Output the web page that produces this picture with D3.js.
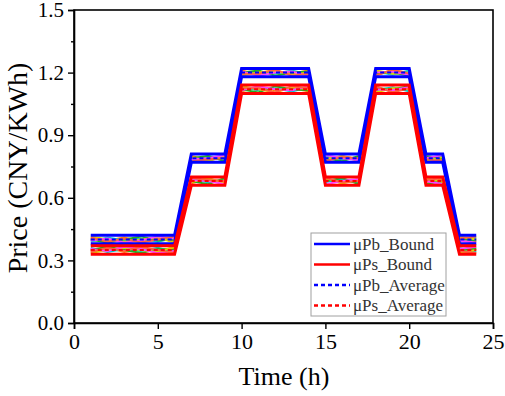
<!DOCTYPE html>
<html>
<head>
<meta charset="utf-8">
<script src="https://cdn.jsdelivr.net/npm/d3@7/dist/d3.min.js"></script>
<style>
  body { margin: 0; background: #fff; }
  text { font-family: "Liberation Serif", "Times New Roman", serif; }
</style>
</head>
<body>
<script>
// hours 1..24
var hours = d3.range(1, 25);

// buying price bounds / average (uPb)
var pbUpper = [0.42,0.42,0.42,0.42,0.42,0.42, 0.81,0.81,0.81, 1.22,1.22,1.22,1.22,1.22, 0.81,0.81,0.81, 1.22,1.22,1.22, 0.81,0.81, 0.42,0.42];
var pbLower = [0.38,0.38,0.38,0.38,0.38,0.38, 0.77,0.77,0.77, 1.18,1.18,1.18,1.18,1.18, 0.77,0.77,0.77, 1.18,1.18,1.18, 0.77,0.77, 0.38,0.38];
var pbAvg   = [0.40,0.40,0.40,0.40,0.40,0.40, 0.79,0.79,0.79, 1.20,1.20,1.20,1.20,1.20, 0.79,0.79,0.79, 1.20,1.20,1.20, 0.79,0.79, 0.40,0.40];

// selling price bounds / average (uPs)
var psUpper = [0.37,0.37,0.37,0.37,0.37,0.37, 0.70,0.70,0.70, 1.14,1.14,1.14,1.14,1.14, 0.70,0.70,0.70, 1.14,1.14,1.14, 0.70,0.70, 0.37,0.37];
var psLower = [0.33,0.33,0.33,0.33,0.33,0.33, 0.66,0.66,0.66, 1.10,1.10,1.10,1.10,1.10, 0.66,0.66,0.66, 1.10,1.10,1.10, 0.66,0.66, 0.33,0.33];
var psAvg   = [0.35,0.35,0.35,0.35,0.35,0.35, 0.68,0.68,0.68, 1.12,1.12,1.12,1.12,1.12, 0.68,0.68,0.68, 1.12,1.12,1.12, 0.68,0.68, 0.35,0.35];

// scenario prices inside the bands
var pbScen = [
  [0.405,0.395,0.41,0.39,0.405,0.395, 0.80,0.78,0.795, 1.21,1.19,1.205,1.195,1.21, 0.78,0.80,0.785, 1.19,1.21,1.20, 0.795,0.78, 0.41,0.39],
  [0.39,0.41,0.395,0.405,0.39,0.41, 0.78,0.80,0.785, 1.19,1.205,1.195,1.21,1.19, 0.80,0.785,0.795, 1.205,1.19,1.21, 0.78,0.80, 0.39,0.41],
  [0.40,0.385,0.40,0.415,0.395,0.40, 0.79,0.80,0.775, 1.20,1.21,1.185,1.20,1.205, 0.79,0.775,0.80, 1.195,1.20,1.185, 0.80,0.79, 0.40,0.395],
  [0.415,0.40,0.39,0.40,0.41,0.385, 0.795,0.775,0.80, 1.185,1.20,1.21,1.19,1.20, 0.785,0.80,0.775, 1.21,1.195,1.20, 0.775,0.795, 0.415,0.40],
  [0.395,0.405,0.385,0.395,0.415,0.405, 0.785,0.79,0.805, 1.205,1.185,1.20,1.205,1.185, 0.805,0.79,0.78, 1.20,1.205,1.19, 0.79,0.805, 0.395,0.385],
  [0.41,0.39,0.405,0.385,0.40,0.415, 0.775,0.785,0.79, 1.195,1.195,1.215,1.185,1.195, 0.775,0.795,0.79, 1.185,1.215,1.195, 0.785,0.775, 0.405,0.415]
];
var psScen = [
  [0.345,0.36,0.34,0.355,0.35,0.36, 0.67,0.69,0.675, 1.11,1.13,1.115,1.125,1.11, 0.69,0.67,0.685, 1.13,1.11,1.125, 0.67,0.69, 0.345,0.36],
  [0.36,0.34,0.355,0.345,0.36,0.34, 0.69,0.675,0.685, 1.13,1.115,1.125,1.11,1.13, 0.675,0.69,0.67, 1.115,1.13,1.11, 0.69,0.675, 0.36,0.34],
  [0.35,0.365,0.35,0.335,0.355,0.35, 0.68,0.665,0.695, 1.12,1.105,1.135,1.12,1.115, 0.68,0.695,0.665, 1.125,1.12,1.135, 0.665,0.68, 0.35,0.355],
  [0.335,0.35,0.36,0.35,0.34,0.365, 0.675,0.695,0.67, 1.135,1.12,1.105,1.13,1.12, 0.695,0.67,0.69, 1.105,1.125,1.12, 0.695,0.675, 0.335,0.35],
  [0.355,0.345,0.365,0.355,0.335,0.345, 0.685,0.68,0.665, 1.115,1.135,1.12,1.115,1.135, 0.665,0.68,0.69, 1.12,1.115,1.13, 0.68,0.665, 0.355,0.365],
  [0.34,0.36,0.345,0.365,0.35,0.335, 0.695,0.685,0.68, 1.125,1.125,1.105,1.135,1.125, 0.695,0.675,0.68, 1.135,1.105,1.125, 0.685,0.695, 0.345,0.335]
];
var scenColors = ["#ff8000", "#00c8d0", "#20b020", "#e0d000", "#ff40ff", "#ff6040"];

var xTicks = [0, 5, 10, 15, 20, 25];
var yTicks = [0.0, 0.3, 0.6, 0.9, 1.2, 1.5];
var yMinor = [0.15, 0.45, 0.75, 1.05, 1.35];

var legendItems = [
  {label: "\u03bcPb_Bound", color: "#0000ff", dash: null},
  {label: "\u03bcPs_Bound", color: "#ff0000", dash: null},
  {label: "\u03bcPb_Average", color: "#0000ff", dash: "4,3"},
  {label: "\u03bcPs_Average", color: "#ff0000", dash: "4,3"}
];

var W = 505, H = 396;
var svg = d3.select("body").append("svg").attr("width", W).attr("height", H);

var x = d3.scaleLinear().domain([0, 25]).range([74, 493]);
var y = d3.scaleLinear().domain([0, 1.5]).range([323, 10]);

var line = d3.line()
  .x(function(d, i) { return x(hours[i]); })
  .y(function(d) { return y(d); });

var plot = svg.append("g");

// scenario lines
pbScen.concat(psScen).forEach(function(s, k) {
  plot.append("path").attr("d", line(s))
    .attr("fill", "none")
    .attr("stroke", scenColors[k % scenColors.length])
    .attr("stroke-width", 2);
});

// averages
[[pbAvg, "#0000ff"], [psAvg, "#ff0000"]].forEach(function(a) {
  plot.append("path").attr("d", line(a[0]))
    .attr("fill", "none").attr("stroke", a[1])
    .attr("stroke-width", 2).attr("stroke-dasharray", "4,3");
});

// bounds
[[pbUpper, "#0000ff"], [pbLower, "#0000ff"], [psUpper, "#ff0000"], [psLower, "#ff0000"]].forEach(function(b) {
  plot.append("path").attr("d", line(b[0]))
    .attr("fill", "none").attr("stroke", b[1])
    .attr("stroke-width", 3).attr("stroke-linejoin", "miter");
});

// frame
svg.append("rect").attr("x", 74).attr("y", 10).attr("width", 419).attr("height", 313)
  .attr("fill", "none").attr("stroke", "#000").attr("stroke-width", 1.6);

// axes
var xAxis = svg.append("g").attr("transform", "translate(0,323)")
  .call(d3.axisBottom(x).tickValues(xTicks).tickFormat(d3.format("d")).tickSize(6).tickPadding(4));
var yAxis = svg.append("g").attr("transform", "translate(74,0)")
  .call(d3.axisLeft(y).tickValues(yTicks).tickFormat(d3.format(".1f")).tickSize(6).tickPadding(4));
svg.append("g").attr("transform", "translate(74,0)")
  .call(d3.axisLeft(y).tickValues(yMinor).tickFormat("").tickSize(3))
  .select(".domain").remove();

svg.selectAll(".domain").attr("stroke-width", 1.6);
svg.selectAll(".tick line").attr("stroke-width", 1.4);
xAxis.selectAll("text").attr("font-size", 22).attr("font-family", "Liberation Serif");
yAxis.selectAll("text").attr("font-size", 21).attr("font-family", "Liberation Serif");

// titles
svg.append("text").attr("x", 284).attr("y", 385).attr("text-anchor", "middle")
  .attr("font-size", 26).text("Time (h)");
svg.append("text").attr("transform", "translate(27,168) rotate(-90)").attr("text-anchor", "middle")
  .attr("font-size", 28).text("Price (CNY/KWh)");

// legend
var lg = svg.append("g").attr("transform", "translate(311,233)");
lg.append("rect").attr("width", 135).attr("height", 83)
  .attr("fill", "#fff").attr("stroke", "#a0a0a0").attr("stroke-width", 1);
legendItems.forEach(function(it, i) {
  var yy = 11 + i * 20.5;
  lg.append("line").attr("x1", 3).attr("x2", 39).attr("y1", yy).attr("y2", yy)
    .attr("stroke", it.color).attr("stroke-width", 2.5)
    .attr("stroke-dasharray", it.dash);
  lg.append("text").attr("x", 42).attr("y", yy + 5.5).attr("font-size", 17)
    .attr("fill", "#333").text(it.label);
});
</script>
</body>
</html>
